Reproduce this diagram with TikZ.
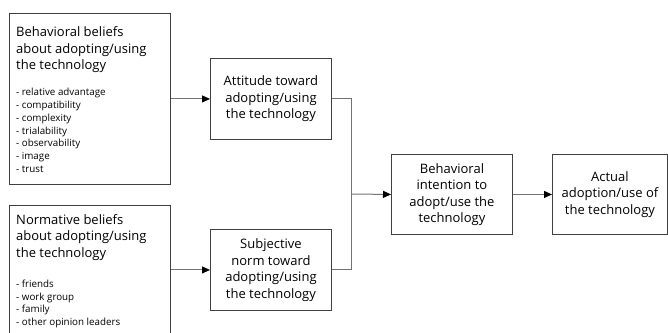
\documentclass[tikz,border=0pt]{standalone}
\usepackage{fontspec}
\setmainfont{Open Sans}
\usetikzlibrary{arrows.meta}
\begin{document}
\begin{tikzpicture}[x=1pt,y=-1pt,
  box/.style={draw=black!75,line width=0.9pt,rectangle,inner sep=0pt,anchor=north west},
  ttl/.style={anchor=north west,inner sep=0pt,align=left,font=\fontsize{13}{16.5}\selectfont},
  lst/.style={anchor=north west,inner sep=0pt,align=left,font=\fontsize{9.8}{12.8}\selectfont},
  mid/.style={align=center,inner sep=0pt,font=\fontsize{13}{16.5}\selectfont},
  conn/.style={draw=black!55,line width=1pt},
  arr/.style={conn,-{Triangle[length=8pt,width=7pt,color=black]}}]
\useasboundingbox (0,0) rectangle (668,332);
\clip (0,0) rectangle (668,332);
% boxes
\node[box,minimum width=161pt,minimum height=171pt] (bb) at (9,13) {};
\node[box,minimum width=161pt,minimum height=135pt] (nb) at (9,205) {};
\node[box,minimum width=121pt,minimum height=81pt] (att) at (210,58) {};
\node[box,minimum width=121pt,minimum height=81pt] (sn) at (210,229) {};
\node[box,minimum width=121pt,minimum height=80pt] (bi) at (391,154) {};
\node[box,minimum width=115pt,minimum height=80pt] (ad) at (552,154) {};
% texts
\node[ttl] (bbt) at (16,26.5) {Behavioral beliefs\\about adopting/using\\the technology};
\node[lst] (bbl) at (16,88) {- relative advantage\\- compatibility\\- complexity\\- trialability\\- observability\\- image\\- trust};
\node[ttl] (nbt) at (16,214) {Normative beliefs\\about adopting/using\\the technology};
\node[lst] (nbl) at (16,279.5) {- friends\\- work group\\- family\\- other opinion leaders};
\node[mid] (attt) at (att.center) {Attitude toward\\adopting/using\\the technology};
\node[mid] (snt) at (sn.center) {Subjective\\norm toward\\adopting/using\\the technology};
\node[mid] (bit) at (bi.center) {Behavioral\\intention to\\adopt/use the\\technology};
\node[mid] (adt) at (ad.center) {Actual\\adoption/use of\\the technology};
% connectors
\coordinate (j) at (351,194);
\draw[arr] (bb.east |- att.west) -- (att.west);
\draw[arr] (nb.east |- sn.west) -- (sn.west);
\draw[conn] (att.east) -| (j);
\draw[conn] (sn.east) -| (j);
\draw[arr] (j) -- (bi.west);
\draw[arr] (bi.east) -- (ad.west);
\end{tikzpicture}
\end{document}
